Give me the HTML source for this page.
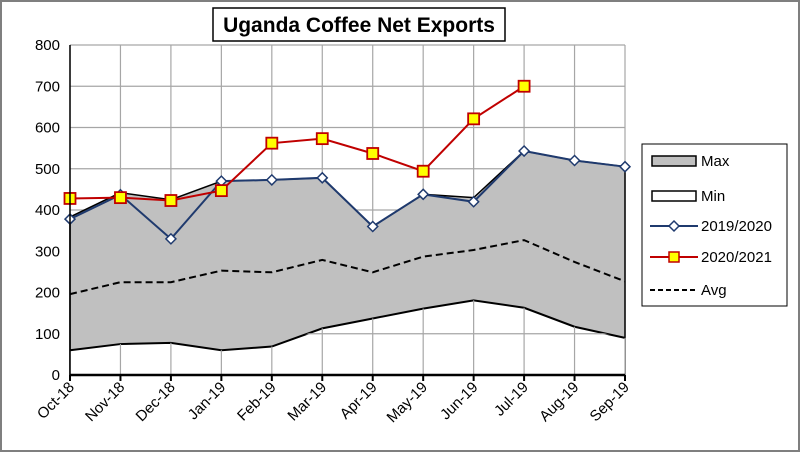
<!DOCTYPE html>
<html><head><meta charset="utf-8"><style>
html,body{margin:0;padding:0;background:#fff;}
svg{display:block;font-family:"Liberation Sans",sans-serif;}
</style></head><body>
<svg id="chart" width="800" height="452" viewBox="0 0 800 452">
<rect x="1" y="1" width="798" height="450" fill="#fff" stroke="#7f7f7f" stroke-width="2"/>
<g id="grid"></g>
<g id="series"></g>
<g id="axes"></g>
<rect x="213" y="8" width="292" height="33" fill="#fff" stroke="#000" stroke-width="1.5"/>
<text x="359" y="32" text-anchor="middle" font-size="21" font-weight="bold">Uganda Coffee Net Exports</text>
<g>
<rect x="642" y="144" width="145" height="162" fill="#fff" stroke="#000" stroke-width="1"/>
<g><rect x="652" y="156" width="44" height="10" fill="#c0c0c0" stroke="#000" stroke-width="1.5"/><text x="701" y="166" font-size="15">Max</text></g>
<g><rect x="652" y="191" width="44" height="10" fill="#fff" stroke="#000" stroke-width="1.5"/><text x="701" y="201" font-size="15">Min</text></g>
<g><line x1="650" y1="226" x2="698" y2="226" stroke="#1f3a6e" stroke-width="2"/><path d="M674 221 L679 226 L674 231 L669 226Z" fill="#fff" stroke="#1f3a6e" stroke-width="1.5"/><text x="701" y="231" font-size="15">2019/2020</text></g>
<g><line x1="650" y1="257" x2="698" y2="257" stroke="#c00000" stroke-width="2"/><rect x="669" y="252" width="10" height="10" fill="#ffff00" stroke="#c00000" stroke-width="1.5"/><text x="701" y="262" font-size="15">2020/2021</text></g>
<g><line x1="650" y1="290" x2="698" y2="290" stroke="#000" stroke-width="2" stroke-dasharray="5,3"/><text x="701" y="295" font-size="15">Avg</text></g>
</g>
</svg>
<script>
const categories=["Oct-18","Nov-18","Dec-18","Jan-19","Feb-19","Mar-19","Apr-19","May-19","Jun-19","Jul-19","Aug-19","Sep-19"];
const maxValues=[383,442,425,470,473,478,360,438,430,543,520,505];
const minValues=[60,75,78,60,69,113,137,161,181,163,117,90];
const avgValues=[196,225,225,253,249,279,249,287,303,327,274,227];
const s2019=[378,437,330,470,473,478,360,438,420,543,520,505];
const s2020=[428,430,423,447,562,573,537,494,621,700];
const yTicks=[0,100,200,300,400,500,600,700,800];
const NS="http://www.w3.org/2000/svg";
const X0=70,X1=625,Y0=375,Y1=45,YMAX=800;
function xs(i){return X0+i*(X1-X0)/(categories.length-1);}
function ys(v){return Y0-v/YMAX*(Y0-Y1);}
function mk(tag,attrs,parent){const e=document.createElementNS(NS,tag);for(const k in attrs)e.setAttribute(k,attrs[k]);parent.appendChild(e);return e;}
const grid=document.getElementById('grid'),ser=document.getElementById('series'),ax=document.getElementById('axes');
yTicks.forEach(t=>{const l=mk('line',{x1:X0,x2:X1,y1:ys(t),y2:ys(t),stroke:'#a6a6a6','stroke-width':1.2},grid);


const tx=mk('text',{x:X0-10,y:ys(t)+5,'text-anchor':'end','font-size':15},ax);tx.textContent=t;

});
categories.forEach((c,i)=>{const l=mk('line',{x1:xs(i),x2:xs(i),y1:Y1,y2:Y0,stroke:'#a6a6a6','stroke-width':1.2},grid);

});
// max area
let d='M'+xs(0)+' '+Y0;maxValues.forEach((v,i)=>d+=' L'+xs(i)+' '+ys(v));d+=' L'+xs(maxValues.length-1)+' '+Y0+'Z';
const ma=mk('path',{d:d,fill:'#c0c0c0',stroke:'#000','stroke-width':1.5},ser);


let d2='M'+xs(0)+' '+Y0;minValues.forEach((v,i)=>d2+=' L'+xs(i)+' '+ys(v));d2+=' L'+xs(minValues.length-1)+' '+Y0+'Z';
const mi=mk('path',{d:d2,fill:'#fff',stroke:'none'},ser);


const mil=mk('polyline',{points:minValues.map((v,i)=>xs(i)+','+ys(v)).join(' '),fill:'none',stroke:'#000','stroke-width':2},ser);


// redraw gridlines within white min area
yTicks.forEach(t=>{if(t===0)return;});
categories.forEach((c,i)=>{if(minValues[i]>0){const l=mk('line',{x1:xs(i),x2:xs(i),y1:ys(minValues[i]),y2:Y0,stroke:'#a6a6a6','stroke-width':1.2},ser);

}});
{const l=mk('line',{x1:X0,x2:X1,y1:ys(100),y2:ys(100),stroke:'#a6a6a6','stroke-width':1.2,'clip-path':'url(#minclip)'},ser);


const defs=mk('defs',{},ser);const cp=mk('clipPath',{id:'minclip'},defs);mk('path',{d:d2},cp);}
const avg=mk('polyline',{points:avgValues.map((v,i)=>xs(i)+','+ys(v)).join(' '),fill:'none',stroke:'#000','stroke-width':2,'stroke-dasharray':'7,4'},ser);


const b=mk('polyline',{points:s2019.map((v,i)=>xs(i)+','+ys(v)).join(' '),fill:'none',stroke:'#1f3a6e','stroke-width':2},ser);


s2019.forEach((v,i)=>{const x=xs(i),y=ys(v);const p=mk('path',{d:`M${x} ${y-5} L${x+5} ${y} L${x} ${y+5} L${x-5} ${y}Z`,fill:'#fff',stroke:'#1f3a6e','stroke-width':1.5},ser);

});
const r=mk('polyline',{points:s2020.map((v,i)=>xs(i)+','+ys(v)).join(' '),fill:'none',stroke:'#c00000','stroke-width':2},ser);


s2020.forEach((v,i)=>{const p=mk('rect',{x:xs(i)-5.5,y:ys(v)-5.5,width:11,height:11,fill:'#ffff00',stroke:'#c00000','stroke-width':1.8},ser);

});
// axes
const ya=mk('line',{x1:X0,x2:X0,y1:Y1,y2:Y0,stroke:'#000','stroke-width':1.5},ax);


const xa=mk('line',{x1:X0,x2:X1,y1:Y0,y2:Y0,stroke:'#000','stroke-width':2.5},ax);


categories.forEach((c,i)=>{const t=mk('line',{x1:xs(i),x2:xs(i),y1:Y0,y2:Y0+6,stroke:'#000','stroke-width':2},ax);


const x=xs(i)+5,y=Y0+13;const tx=mk('text',{x:x,y:y,'text-anchor':'end','font-size':15,transform:`rotate(-45 ${x} ${y})`},ax);tx.textContent=c;

});
</script>
</body></html>
